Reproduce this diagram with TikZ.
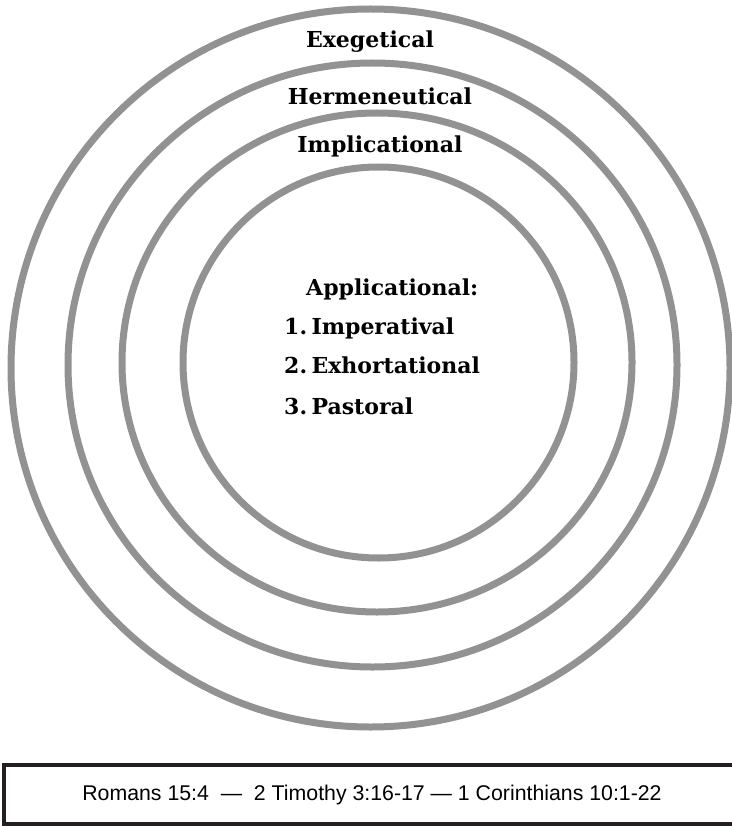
\documentclass[tikz,border=0pt]{standalone}
\usepackage{fontspec}
\setmainfont{DejaVu Serif}
\setsansfont{Liberation Sans}
\usepackage{tikz}

\definecolor{ringgray}{RGB}{146,146,146}
\definecolor{boxline}{RGB}{35,31,32}

\tikzset{
  ring/.style={draw=ringgray, line width=7pt},
  lbl/.style={font=\bfseries\fontsize{22}{26}\selectfont, inner sep=0pt, anchor=base},
  item/.style={lbl, anchor=base west},
  refbox/.style={draw=boxline, line width=4pt, minimum width=736pt, minimum height=59pt,
    font=\sffamily\fontsize{21.3}{25}\selectfont}
}

\begin{document}
\begin{tikzpicture}[x=1pt,y=-1pt]
\useasboundingbox (0,0) rectangle (731,826);
% rings
\draw[ring] (370.5,368) ellipse[x radius=359.5pt, y radius=359pt];
\draw[ring] (372.5,365) ellipse[x radius=304.5pt, y radius=302pt];
\draw[ring] (377,362.5) ellipse[x radius=255pt, y radius=249.5pt];
\draw[ring] (378.5,362.5) ellipse[x radius=195.5pt, y radius=195.5pt];
% levels
\node[lbl] (exeg) at (370,48) {Exegetical};
\node[lbl] (herm) at (380,105) {Hermeneutical};
\node[lbl] (impl) at (380,153) {Implicational};
\node[item] (appl) at (306,295) {Applicational:};
\node[item] (imper) at (284,334) {1.\hspace{0.2em}Imperatival};
\node[item] (exhort) at (284,373) {2.\hspace{0.2em}Exhortational};
\node[item] (past) at (284,414) {3.\hspace{0.2em}Pastoral};
% references
\node[refbox] (refs) at (372,794.5) {Romans 15:4 \ --- \ 2 Timothy 3:16-17 --- 1 Corinthians 10:1-22};
\end{tikzpicture}
\end{document}
